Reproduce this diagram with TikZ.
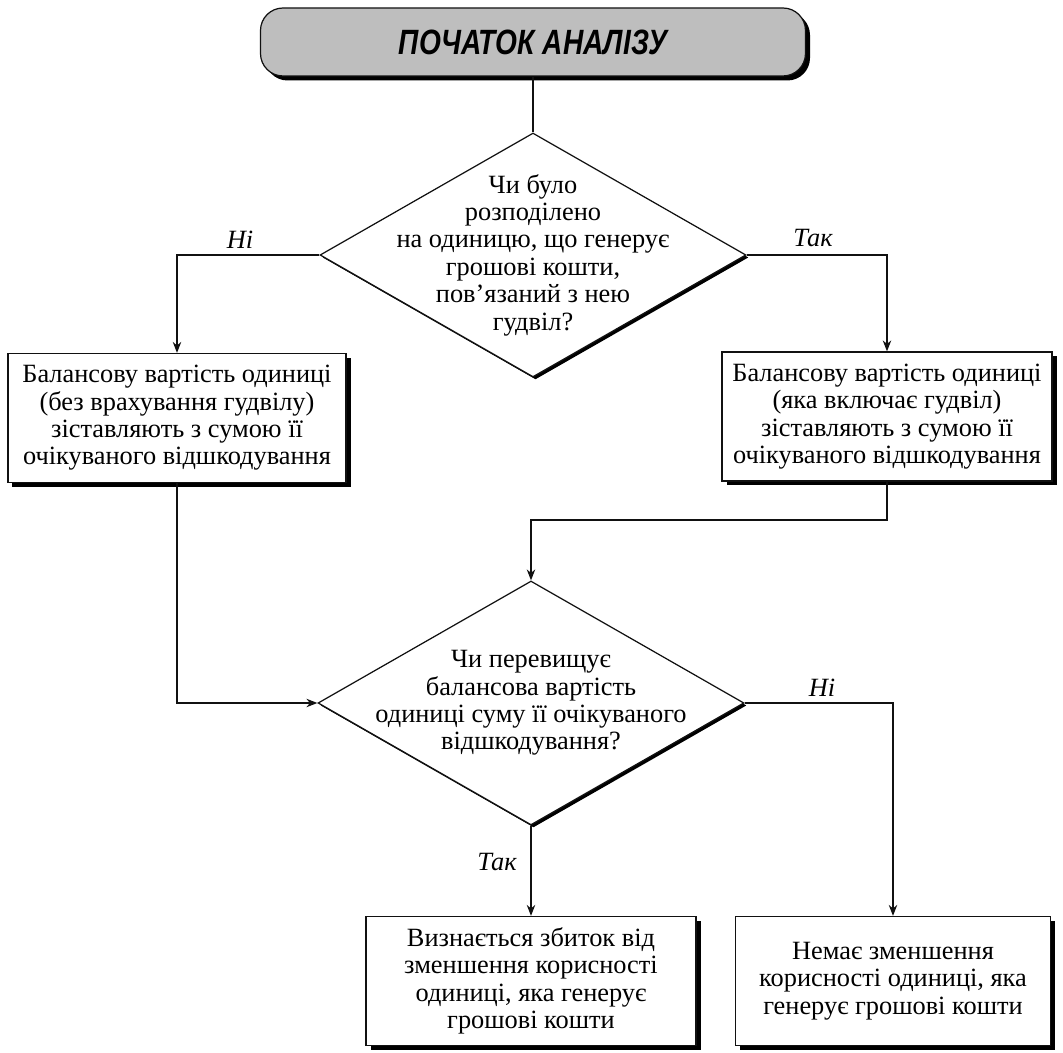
\documentclass[tikz,border=0pt]{standalone}
\usepackage{fontspec}
\setmainfont{Liberation Serif}
\newfontfamily\headfont[FakeStretch=0.8]{Liberation Sans}
\usepackage{xcolor}
\usetikzlibrary{arrows.meta,positioning,shapes.geometric,shadows}
\definecolor{flGray}{HTML}{BEBEBE}
\definecolor{flInk}{HTML}{111111}

\begin{document}
\begin{tikzpicture}[
    font=\fontsize{15}{15.6}\selectfont,
    line width=0.7pt,
    draw=flInk,
    shd/.style={drop shadow={shadow xshift=0.09cm,shadow yshift=-0.09cm,opacity=1,fill=black}},
    term/.style={draw=flInk,fill=flGray,rounded corners=0.45cm,minimum width=10.9cm,minimum height=1.36cm,
                 shd,font=\headfont\bfseries\itshape\fontsize{20}{20}\selectfont},
    box/.style={draw=flInk,fill=white,minimum height=2.58cm,align=center,inner sep=2pt,shd},
    dec/.style={diamond,draw=flInk,fill=white,minimum width=8.52cm,minimum height=4.88cm,align=center,
                inner sep=-1.6cm,aspect=1.75,
                drop shadow={shadow xshift=0.05cm,shadow yshift=-0.05cm,opacity=1,fill=black}},
    lbl/.style={font=\itshape\fontsize{15}{15}\selectfont},
    ar/.style={draw=flInk,-{Stealth[length=2.2mm,width=1.7mm]}}
  ]
    \useasboundingbox (0,0) rectangle (21.26,21.06);

    \node[term] (start) at (10.66,20.22) {ПОЧАТОК АНАЛІЗУ};

    \node[dec] (alloc) at (10.66,15.96) {Чи було\\розподілено\\на одиницю, що генерує\\грошові кошти,\\пов’язаний з нею\\гудвіл?};
    \node[lbl] (allocNo)  at (4.80,16.26)  {Ні};
    \node[lbl] (allocYes) at (16.26,16.30) {Так};

    \node[box,minimum width=6.76cm] (noGw) at (3.54,12.70)
      {Балансову вартість одиниці\\(без врахування гудвілу)\\зіставляють з сумою її\\очікуваного відшкодування};
    \node[box,minimum width=6.6cm] (withGw) at (17.74,12.73)
      {Балансову вартість одиниці\\(яка включає гудвіл)\\зіставляють з сумою її\\очікуваного відшкодування};

    \coordinate (merge) at (10.62,10.66);

    \node[dec] (exceed) at (10.62,7.00) {Чи перевищує\\балансова вартість\\одиниці суму її очікуваного\\відшкодування?};
    \node[lbl] (exceedNo)  at (16.44,7.30) {Ні};
    \node[lbl] (exceedYes) at (9.94,3.82)  {Так};

    \node[box,minimum width=6.6cm] (loss) at (10.62,1.44)
      {Визнається збиток від\\зменшення корисності\\одиниці, яка генерує\\грошові кошти};
    \node[box,minimum width=6.3cm] (noLoss) at (17.86,1.44)
      {Немає зменшення\\корисності одиниці, яка\\генерує грошові кошти};

    \draw (start.south) -- (alloc.north);
    \draw[ar] (alloc.west) -| (noGw.north);
    \draw[ar] (alloc.east) -| (withGw.north);
    \draw[ar] (noGw.south) |- (exceed.west);
    \draw[ar] (withGw.south) |- (merge) -- (exceed.north);
    \draw[ar] (exceed.east) -| (noLoss.north);
    \draw[ar] (exceed.south) -- (loss.north);
  \end{tikzpicture}
\end{document}
